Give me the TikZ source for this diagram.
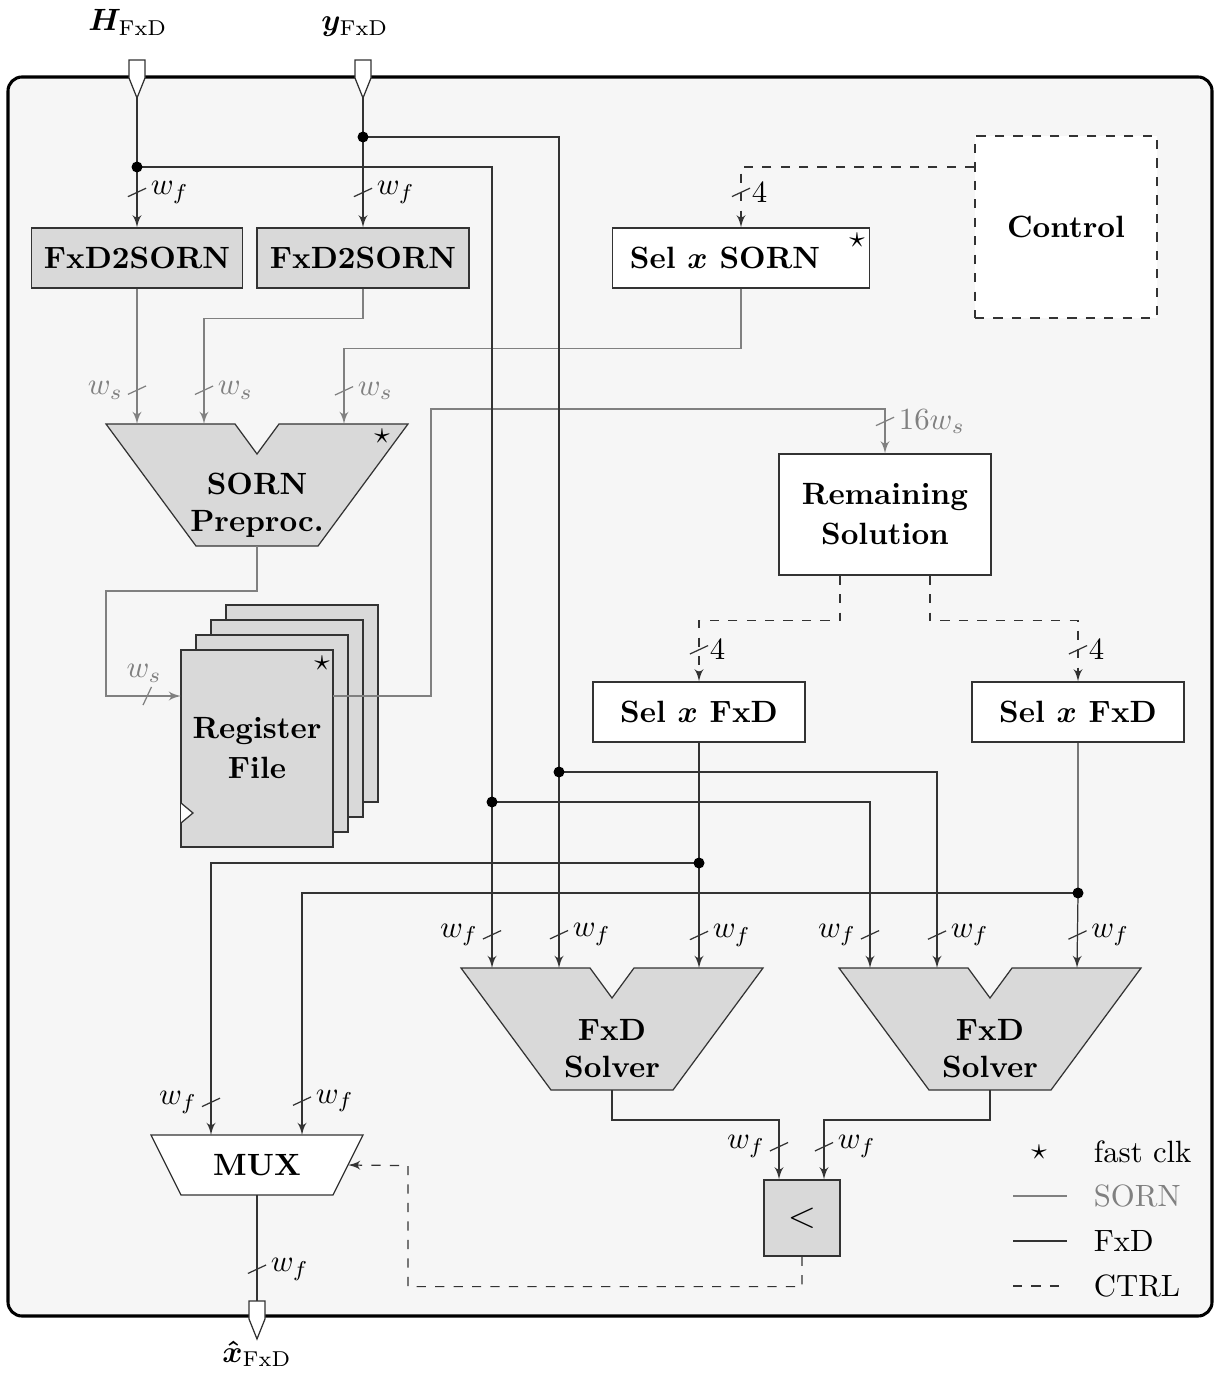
\documentclass[tikz,border=0pt]{standalone}
\usepackage{amsmath,amssymb,bm}
\usepackage{xcolor}
\usepackage{tikz}
\usetikzlibrary{arrows,positioning}
\newdimen\px \px=0.325pt
\definecolor{boxGray}{gray}{0.85}
\definecolor{bgGray}{gray}{0.965}
\tikzstyle{fxd} = [black!80, text=black]
\tikzstyle{sorn} = [black!50]
\tikzstyle{ctrl} = [black!80, text=black, dashed]
\tikzstyle{blk} = [draw=black!80, fill=white, font=\bfseries, minimum height=60\px, inner sep=0pt]
\tikzstyle{gblk} = [blk, fill=boxGray]
\tikzstyle{tick} = [draw, solid, minimum width=20\px, minimum height=0pt, inner sep=0pt, outer sep=0pt]
\tikzstyle{bsl} = [tick, rotate=25]
\tikzstyle{bslh} = [tick, rotate=65]
\tikzstyle{jdot} = [circle, fill=black, inner sep=0pt, minimum size=11\px]
\tikzstyle{port} = [draw=black!80, fill=white]
\tikzset{pics/vmux/.style={code={
    \draw[draw=black!80, fill=boxGray] (-151,0) -- (-22,0) -- (0,30) -- (22,0) -- (151,0) -- (61,122) -- (-61,122) -- cycle;
    \node[font=\bfseries, align=center] (-txt) at (0,81) {#1};
    \coordinate (-in1) at (-120,0);
    \coordinate (-in2) at (-53,0);
    \coordinate (-in3) at (87,0);
    \coordinate (-out) at (0,122);
}}}

\begin{document}
\begin{tikzpicture}[x=\px, y=-\px, >=latex']
    \useasboundingbox (0,0) rectangle (1214,1378);
    % Frame
    \draw[black, line width=1pt, fill=bgGray, rounded corners=14\px] (8,77) rectangle (1212,1316);

    % Ports
    \coordinate (inH) at (137,98);
    \coordinate (inY) at (363,98);
    \coordinate (outX) at (257,1339);
    \coordinate (outTop) at (257,1301);
    \foreach \p in {inH, inY, outX}
        \draw[port] (\p) -- ++(8,-20) -- ++(0,-18) -- ++(-16,0) -- ++(0,18) -- cycle;
    \node[anchor=base] (lblH) at (128,31) {$\bm{H}_{\mathrm{FxD}}$};
    \node[anchor=base] (lblY) at (355,31) {$\bm{y}_{\mathrm{FxD}}$};
    \node[anchor=base] (lblX) at (257,1362) {$\bm{\hat{x}}_{\mathrm{FxD}}$};

    % Blocks
    \node[gblk, minimum width=211\px] (f2s1) at (137,258) {FxD2SORN};
    \node[gblk, minimum width=212\px] (f2s2) at (363,258) {FxD2SORN};
    \node[blk, minimum width=257\px] (selS) at (741,258) {Sel $\bm{x}$ SORN\hspace*{32\px}};
    \node (starS) at (857,240) {$\star$};
    \node[blk, dashed, minimum width=182\px, minimum height=182\px] (ctrl) at (1066,227) {Control};
    \node[blk, minimum width=212\px, minimum height=121\px, align=center] (rem) at (885,514.5) {Remaining\\[1pt]Solution};
    \node[blk, minimum width=212\px] (selF1) at (699,712) {Sel $\bm{x}$ FxD};
    \node[blk, minimum width=212\px] (selF2) at (1078,712) {Sel $\bm{x}$ FxD};

    \pic (pre) at (257,424) {vmux={SORN\\Preproc.}};
    \node (starP) at (382,436) {$\star$};
    \pic (sol1) at (612,968) {vmux={FxD\\Solver}};
    \pic (sol2) at (990,968) {vmux={FxD\\Solver}};

    % Register file
    \foreach \i in {3,2,1}
        \draw[draw=black!80, fill=boxGray] (181+15*\i,650-15*\i) rectangle ++(152,197);
    \node[gblk, minimum width=152\px, minimum height=197\px, align=center] (reg) at (257,748.5) {Register\\[1pt]File};
    \node (starR) at (322,663) {$\star$};
    \draw[port] (181,803) -- (193,813) -- (181,823);
    \coordinate (regIn) at (181,696);
    \coordinate (regOut) at (333,696);

    % MUX and comparator
    \draw[draw=black!80, fill=white] (151,1135) -- (363,1135) -- (333,1195) -- (181,1195) -- cycle;
    \node[font=\bfseries] (mux) at (257,1165) {MUX};
    \coordinate (mux-in1) at (211,1135);
    \coordinate (mux-in2) at (302,1135);
    \coordinate (mux-out) at (257,1195);
    \coordinate (mux-sel) at (348,1165);
    \node[gblk, minimum width=76\px, minimum height=76\px, font=\large] (cmp) at (802,1218) {$<$};

    % Junctions
    \coordinate (jH) at (137,167);
    \coordinate (jY) at (363,137);
    \coordinate (jA) at (492,802);
    \coordinate (jB) at (559,772);
    \coordinate (jC) at (699,863);
    \coordinate (jD) at (1078,893);

    % SORN wires
    \draw[sorn,->] (f2s1.south) -- node[bsl,pos=.75]{} node[pos=.75,left=1pt]{$w_s$} (pre-in1);
    \draw[sorn,->] (f2s2.south) -- ++(0,30) -| node[bsl,pos=.84]{} node[pos=.84,right=1pt]{$w_s$} (pre-in2);
    \draw[sorn,->] (selS.south) -- ++(0,60) -| node[bsl,pos=.78]{} node[pos=.78,right=1pt]{$w_s$} (pre-in3);
    \draw[sorn,->] (pre-out) -- ++(0,45) -- ++(-151,0) |- node[bslh,pos=.775]{} node[pos=.775,above=1pt,xshift=-1pt]{$w_s$} (regIn);
    \draw[sorn,->] (regOut) -| ++(98,-287) -| node[bsl,pos=.64]{} node[pos=.64,right=1pt]{$16w_s$} (rem.north);

    % FxD wires
    \draw[fxd,->] (inH) -- node[bsl,pos=.73]{} node[pos=.73,right=1pt]{$w_f$} (f2s1.north);
    \draw[fxd,->] (inY) -- node[bsl,pos=.73]{} node[pos=.73,right=1pt]{$w_f$} (f2s2.north);
    \draw[fxd] (jH) -| (jA);
    \draw[fxd] (jY) -| (jB);
    \draw[fxd,->] (jA) -- node[bsl,pos=.8]{} node[pos=.8,left=1pt]{$w_f$} (sol1-in1);
    \draw[fxd,->] (jA) -| node[bsl,pos=.9]{} node[pos=.9,left=1pt]{$w_f$} (sol2-in1);
    \draw[fxd,->] (jB) -- node[bsl,pos=.83]{} node[pos=.83,right=1pt]{$w_f$} (sol1-in2);
    \draw[fxd,->] (jB) -| node[bsl,pos=.916]{} node[pos=.916,right=1pt]{$w_f$} (sol2-in2);
    \draw[fxd,->] (selF1.south) -- (jC) -- node[bsl,pos=.69]{} node[pos=.69,right=1pt]{$w_f$} (sol1-in3);
    \draw[fxd,->] (selF2.south) -- (jD) -- node[bsl,pos=.56]{} node[pos=.56,right=1pt]{$w_f$} (sol2-in3);
    \draw[fxd,->] (jC) -| node[bsl,pos=.94]{} node[pos=.94,left=1pt]{$w_f$} (mux-in1);
    \draw[fxd,->] (jD) -| node[bsl,pos=.93]{} node[pos=.93,right=1pt]{$w_f$} (mux-in2);
    \draw[fxd,->] (sol1-out) -- ++(0,30) -| node[bsl,pos=.725]{} node[pos=.725,left=1pt]{$w_f$} ([xshift=-23\px]cmp.north);
    \draw[fxd,->] (sol2-out) -- ++(0,30) -| node[bsl,pos=.725]{} node[pos=.725,right=1pt]{$w_f$} ([xshift=22\px]cmp.north);
    \draw[fxd] (mux-out) -- node[bsl,pos=.7]{} node[pos=.7,right=1pt]{$w_f$} (outTop);

    % Control wires
    \draw[ctrl,->] (ctrl.west |- jH) -| node[bsl,pos=.71]{} node[pos=.71,right=0pt]{$4$} (selS.north);
    \draw[ctrl,->] ([xshift=-45\px]rem.south) -- ++(0,45) -| node[bsl,pos=.74]{} node[pos=.74,right=0pt]{$4$} (selF1.north);
    \draw[ctrl,->] ([xshift=45\px]rem.south) -- ++(0,45) -| node[bsl,pos=.74]{} node[pos=.74,right=0pt]{$4$} (selF2.north);
    \draw[ctrl,->] (cmp.south) -- ++(0,30) -| ++(-394,-121) -- (mux-sel);

    % Branch points
    \foreach \j in {jH, jY, jA, jB, jC, jD}
        \node[jdot] at (\j) {};

    % Legend
    \node (lgStar) at (1039,1152) {$\star$};
    \node[anchor=west] (lgClk) at (1083,1152) {fast clk};
    \node[anchor=west, text=black!50] (lgSorn) at (1083,1196) {SORN};
    \node[anchor=west] (lgFxd) at (1083,1241) {FxD};
    \node[anchor=west] (lgCtrl) at (1083,1286) {CTRL};
    \draw[sorn] ([xshift=-70\px]lgSorn.west) -- ++(54,0);
    \draw[fxd] ([xshift=-70\px]lgFxd.west) -- ++(54,0);
    \draw[ctrl] ([xshift=-70\px]lgCtrl.west) -- ++(54,0);
\end{tikzpicture}
\end{document}
